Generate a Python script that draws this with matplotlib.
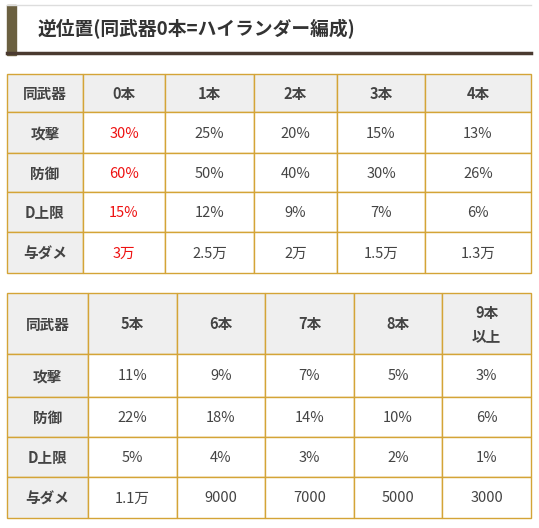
import matplotlib.pyplot as plt
from matplotlib.patches import Rectangle

plt.rcParams['font.family'] = ['Noto Sans CJK JP', 'DejaVu Sans']

title = "逆位置(同武器0本=ハイランダー編成)"
row_labels = ["攻撃", "防御", "D上限", "与ダメ"]

cols1 = ["0本", "1本", "2本", "3本", "4本"]
attack1 = ["30%", "25%", "20%", "15%", "13%"]
defense1 = ["60%", "50%", "40%", "30%", "26%"]
dcap1 = ["15%", "12%", "9%", "7%", "6%"]
dmg1 = ["3万", "2.5万", "2万", "1.5万", "1.3万"]

cols2 = ["5本", "6本", "7本", "8本", "9本\n以上"]
attack2 = ["11%", "9%", "7%", "5%", "3%"]
defense2 = ["22%", "18%", "14%", "10%", "6%"]
dcap2 = ["5%", "4%", "3%", "2%", "1%"]
dmg2 = ["1.1万", "9000", "7000", "5000", "3000"]

border = "#d4a437"
head_bg = "#efefef"
txt = "#444444"

fig = plt.figure(figsize=(5.39, 5.28), dpi=100)
ax = fig.add_axes([0, 0, 1, 1])
ax.set_xlim(0, 539)
ax.set_ylim(528, 0)
ax.axis("off")

# title bar
ax.plot([7, 531], [5, 5], color="#dddddd", lw=1)
ax.add_patch(Rectangle((7, 5), 9, 50, color="#6b6040"))
ax.plot([7, 531], [53, 53], color="#4a3a30", lw=2.5)
ax.text(38, 29, title, fontsize=13.5, fontweight="bold", color="#333333", va="center")


def draw_table(xs, ys, cols, rows, red_first):
    for r in range(len(ys) - 1):
        for c in range(len(xs) - 1):
            x0, x1 = xs[c], xs[c + 1]
            y0, y1 = ys[r], ys[r + 1]
            head = r == 0 or c == 0
            ax.add_patch(Rectangle((x0, y0), x1 - x0, y1 - y0,
                                   facecolor=head_bg if head else "white",
                                   edgecolor=border, lw=1))
            if r == 0 and c == 0:
                s = "同武器"
            elif r == 0:
                s = cols[c - 1]
            elif c == 0:
                s = row_labels[r - 1]
            else:
                s = rows[r - 1][c - 1]
            color = "#ee1111" if (red_first and c == 1 and r > 0) else txt
            ax.text((x0 + x1) / 2, (y0 + y1) / 2 + 1, s, ha="center", va="center",
                    fontsize=10.5, color=color, linespacing=1.6,
                    fontweight="bold" if head else "normal")


draw_table([7, 83, 165, 254, 337, 425, 531], [74, 112, 153, 192, 232, 273],
           cols1, [attack1, defense1, dcap1, dmg1], True)
draw_table([7, 88, 177, 265, 354, 442, 531], [293, 354, 397, 437, 477, 518],
           cols2, [attack2, defense2, dcap2, dmg2], False)

fig.savefig("out.png", dpi=100)
